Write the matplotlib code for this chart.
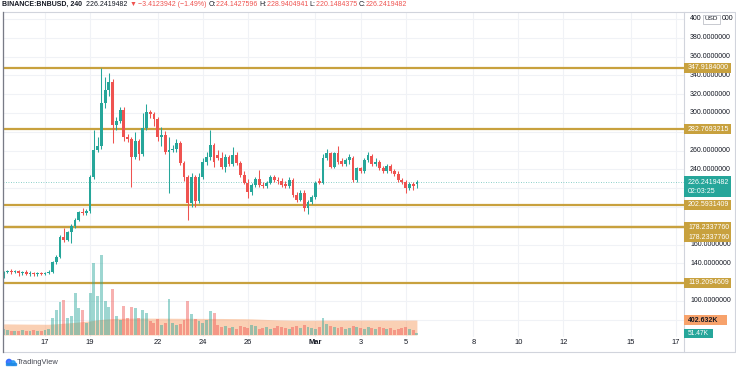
import matplotlib
matplotlib.use("Agg")
import matplotlib.pyplot as plt
from matplotlib.patches import Rectangle, Circle
import numpy as np

W, H = 736, 370

# ---------------- data ----------------
opens = [128,131,132,131,132,130,131,129,130,129,129.6,129,130,
         131,141,147,168,165,173,180,186,195,194,196,232,261,265,311,324,333,287,292,303,274,272,253,270,256,284,
         301,299,294,274,277,258,261,262,268,247,232,204,232,206,232,248,253,266,255,252,243,253,246,255,247,234,226,
         216,223,230,223,222,226,232,229,228,224,222,229,213,207,215,199,205,211,228,226,252,257,243,257,249,246,250,
         252,229,241,238,250,254,246,248,241,238,244,238,235,229,227,220,225,224.1427596]
highs = [132,133,134,133,133,132,133,132,131,131,131,131,133,
         143,149,170,178,175,182,188,196,199,198,234,282,275,348,338,343,336,296,306,306,278,275,280,272,300,310,
         303,301,296,285,281,275,266,272,270,249,234,236,234,236,252,258,282,268,261,258,256,255,264,258,249,238,230,
         226,232,239,227,228,234,234,232,231,228,232,231,216,218,218,207,213,228,231,256,262,259,259,265,252,252,256,
         254,243,243,252,258,256,252,250,244,246,246,240,238,231,229,227,227,228.9404941]
lows = [125,130,129,130,127,128,128,127,127,127,128,128,129,
        130,139,146,163,164,162,178,185,191,192,194,230,258,262,305,318,268,282,289,270,269,221,251,250,254,282,
        295,286,270,265,256,215,258,258,245,228,186,200,200,204,230,245,250,243,250,240,237,244,244,245,232,224,210,
        213,221,221,220,220,225,227,224,221,220,220,211,205,206,196,193,203,209,224,224,250,241,241,246,244,244,246,
        227,227,236,236,248,244,244,239,236,236,236,233,227,225,215,218,218,220.1484375]
closes = [131,132,131,132,130,131,129,130,129,129.6,129,130,131,
          141,147,168,165,173,180,186,195,194,196,232,261,265,311,324,333,287,292,303,274,272,253,270,256,284,301,
          299,294,274,277,258,261,262,268,247,232,204,232,206,232,248,253,266,248,252,243,253,246,255,247,234,226,216,
          223,230,223,222,226,232,229,228,223,222,229,213,207,215,199,205,211,226,226,252,257,243,257,248,246,250,253,
          229,241,238,250,255,246,248,241,238,244,238,235,229,227,220,225,222,226.2419482]
volumes_k = [162,135,108,108,108,135,108,108,135,108,108,135,162,
             459,675,891,945,459,513,1134,729,675,324,1134,1944,1053,2160,918,756,1242,513,405,783,459,756,729,459,675,594,
             378,324,432,270,324,972,324,270,297,405,918,567,432,378,324,405,648,594,
             270,216,243,189,216,162,243,216,189,270,243,162,189,216,162,189,243,216,189,162,216,243,189,270,216,189,162,216,
             459,
             297,243,216,189,216,162,189,243,216,189,162,216,189,162,216,189,162,189,135,162,189,216,162,135,51.47]
vol_ma_k = [300,300,298,297,296,295,294,293,292,292,291,290,290,
            298,302,310,318,326,334,342,352,362,372,
            380,395,410,420,430,438,444,448,
            450,452,454,455,456,456,456,456,455,455,454,454,453,453,452,452,451,451,450,450,449,449,448,448,447,447,446,446,445,444,443,442,441,440,438,
            436,432,428,424,420,416,412,409,406,404,402,400,399,398,398,
            398,398,398,399,400,400,401,401,402,402,402,403,403,403,403,403,403,403,403,403,403,403,403,403,403,403,403,403,403,402.632]
levels = [347.9184000, 282.7693215, 202.5931409, 178.2337760, 178.2337760, 119.2094609]
level_labels = ["347.9184000", "282.7693215", "202.5931409", "178.2337760", "178.2337760", "119.2094609"]
price_ticks = [380, 360, 340, 320, 300, 260, 240, 160, 140, 100]
top_tick = 400
date_ticks = [0, 2, 5, 7, 9, 12, 14, 16, 19, 21, 23, 26, 28]          # days after Feb 17
date_labels = ["17", "19", "22", "24", "26", "Mar", "3", "5", "8", "10", "12", "15", "17"]
first_bar_day = -11 / 6   # Feb 15 04:00, 4h bars
last_price = 226.2419482

TEAL = "#26a69a"
RED = "#ef5350"
GOLD = "#c8a13e"
TXT = "#131722"
FONT = "Liberation Sans"

n = len(closes)
t = first_bar_day + np.arange(n) / 6.0
o = np.array(opens, float); c = np.array(closes, float)
hi = np.array(highs, float); lo = np.array(lows, float)
up = c >= o
cols = np.where(up, TEAL, RED)

fig = plt.figure(figsize=(W / 100, H / 100), dpi=100)
fig.patch.set_facecolor("white")

def fb(x0, y0, x1, y1):
    return [x0 / W, 1 - y1 / H, (x1 - x0) / W, (y1 - y0) / H]

ax = fig.add_axes(fb(3, 12, 684, 337))
ppx = (301 - 19) / 300.0
ax.set_ylim(400 - (337 - 19) / ppx, 400 + (19 - 12) / ppx)
ax.set_xlim((3 - 45) / 22.54, (684 - 45) / 22.54)
for s in ax.spines.values():
    s.set_visible(False)
ax.set_xticks([]); ax.set_yticks([])
for d in date_ticks:
    ax.axvline(d, color="#f0f2f6", lw=0.8, zorder=0)
for p in range(80, 420, 20):
    ax.axhline(p, color="#f0f2f6", lw=0.8, zorder=0)

# volume pane
axv = ax.twinx()
axv.set_ylim(-2 * 27, 323 * 27)
axv.set_xlim(ax.get_xlim())
axv.axis("off")
axv.fill_between(t, 0, vol_ma_k, color="#f7a26b", alpha=0.5, lw=0, zorder=1)
axv.bar(t, volumes_k, width=0.13, color=cols, alpha=0.45, lw=0, zorder=2)

for lv in levels:
    ax.axhline(lv, color=GOLD, lw=1.6, zorder=3)
ax.axhline(last_price, color=TEAL, lw=0.6, ls=(0, (1, 2)), alpha=0.7, zorder=3)

ax.vlines(t, lo, hi, colors=cols, lw=0.75, zorder=4)
ax.bar(t, np.maximum(np.abs(c - o), 0.6), bottom=np.minimum(o, c), width=0.125,
       color=cols, lw=0, zorder=5)

ov = fig.add_axes([0, 0, 1, 1], zorder=10)
ov.set_xlim(0, W); ov.set_ylim(H, 0); ov.axis("off"); ov.patch.set_alpha(0)

def ypix(price):
    return H - ax.transData.transform((0, price))[1]

fig.canvas.draw()
rend = fig.canvas.get_renderer()

ov.plot([3, 735, 735, 3, 3], [12, 12, 352, 352, 12], color="#d1d4dc", lw=0.8)
ov.plot([3, 3], [12, 352], color="#787b86", lw=0.9)
ov.plot([684, 684], [12, 352], color="#d1d4dc", lw=0.8)

FS = 5.0
for p in price_ticks:
    ov.text(690, ypix(p), f"{p:.7f}", fontsize=FS, color=TXT, va="center", ha="left", family=FONT)
# top label "400 [USD] 000"
yu = ypix(top_tick)
full = f"{top_tick:.7f}"
ov.text(690, yu, full[:3], fontsize=FS, color=TXT, va="center", ha="left", family=FONT)
ov.text(722, yu, full[-3:], fontsize=FS, color=TXT, va="center", ha="left", family=FONT)
ov.add_patch(Rectangle((703, yu - 4.5), 17, 9, facecolor="white", edgecolor="#b2b5be", lw=0.5, zorder=5))
ov.text(711.5, yu, "USD", fontsize=4.6, color=TXT, ha="center", va="center", zorder=6, family=FONT)

used = []
for lv, lab in zip(levels, level_labels):
    yy = ypix(lv)
    while any(abs(yy - u) < 9.5 for u in used):
        yy += 10
    used.append(yy)
    ov.add_patch(Rectangle((684, yy - 5), 47, 10, facecolor=GOLD, edgecolor="none", zorder=5))
    ov.text(688, yy, lab, fontsize=FS, color="white", va="center", ha="left", zorder=6, family=FONT)

yl = ypix(last_price)
ov.add_patch(Rectangle((684, yl - 6), 47, 21, facecolor=TEAL, edgecolor="none", zorder=5))
ov.text(688, yl, f"{last_price:.7f}", fontsize=FS, color="white", va="center", ha="left", zorder=6, family=FONT)
ov.text(688, yl + 9, "02:03:25", fontsize=FS, color="white", va="center", ha="left", zorder=6, family=FONT)

yma = H - axv.transData.transform((0, vol_ma_k[-1]))[1]
ov.add_patch(Rectangle((684, yma - 5), 43, 10, facecolor="#f7a26b", edgecolor="none", zorder=5))
ov.text(688, yma, f"{vol_ma_k[-1]:.3f}K", fontsize=FS, color=TXT, va="center", ha="left", zorder=6,
        family=FONT, fontweight="bold")
yv = max(H - axv.transData.transform((0, volumes_k[-1]))[1], yma + 12)
ov.add_patch(Rectangle((684, yv - 4.5), 29, 9, facecolor=TEAL, edgecolor="none", zorder=5))
ov.text(688, yv, f"{volumes_k[-1]:.2f}K", fontsize=4.8, color="white", va="center", ha="left", zorder=6,
        family=FONT)

for d, lab in zip(date_ticks, date_labels):
    xd = ax.transData.transform((d, 0))[0]
    ov.text(xd, 343, lab, fontsize=5.4, color=TXT, ha="center", va="center",
            family=FONT, fontweight="bold" if lab == "Mar" else "normal")

pieces = [("BINANCE:BNBUSD, 240", TXT, "bold"), ("  226.2419482 ", TXT, "normal"),
          ("\u25bc", RED, "normal"), (" \u22123.4123942 (\u22121.49%) ", RED, "normal"),
          ("O:", TXT, "normal"), ("224.1427596 ", RED, "normal"),
          ("H:", TXT, "normal"), ("228.9404941 ", RED, "normal"),
          ("L:", TXT, "normal"), ("220.1484375 ", RED, "normal"),
          ("C:", TXT, "normal"), ("226.2419482", RED, "normal")]
xh = 2.0
for s, col, wt in pieces:
    tx = ov.text(xh, 4.5, s, fontsize=5.0, color=col, fontweight=wt, ha="left", va="center",
                 family=[FONT, "DejaVu Sans"])
    xh += tx.get_window_extent(rend).width

ov.add_patch(Circle((9, 362), 2.6, color="#2962ff", alpha=0.85))
ov.add_patch(Circle((13, 363), 2.2, color="#2196f3", alpha=0.85))
ov.add_patch(Rectangle((5.5, 362.5), 10, 2.8, color="#1e88e5", alpha=0.85))
ov.text(17, 363, "TradingView", fontsize=5.4, color="#434651", ha="left", va="center", family=FONT)

fig.savefig("out.png", dpi=100, facecolor="white")
